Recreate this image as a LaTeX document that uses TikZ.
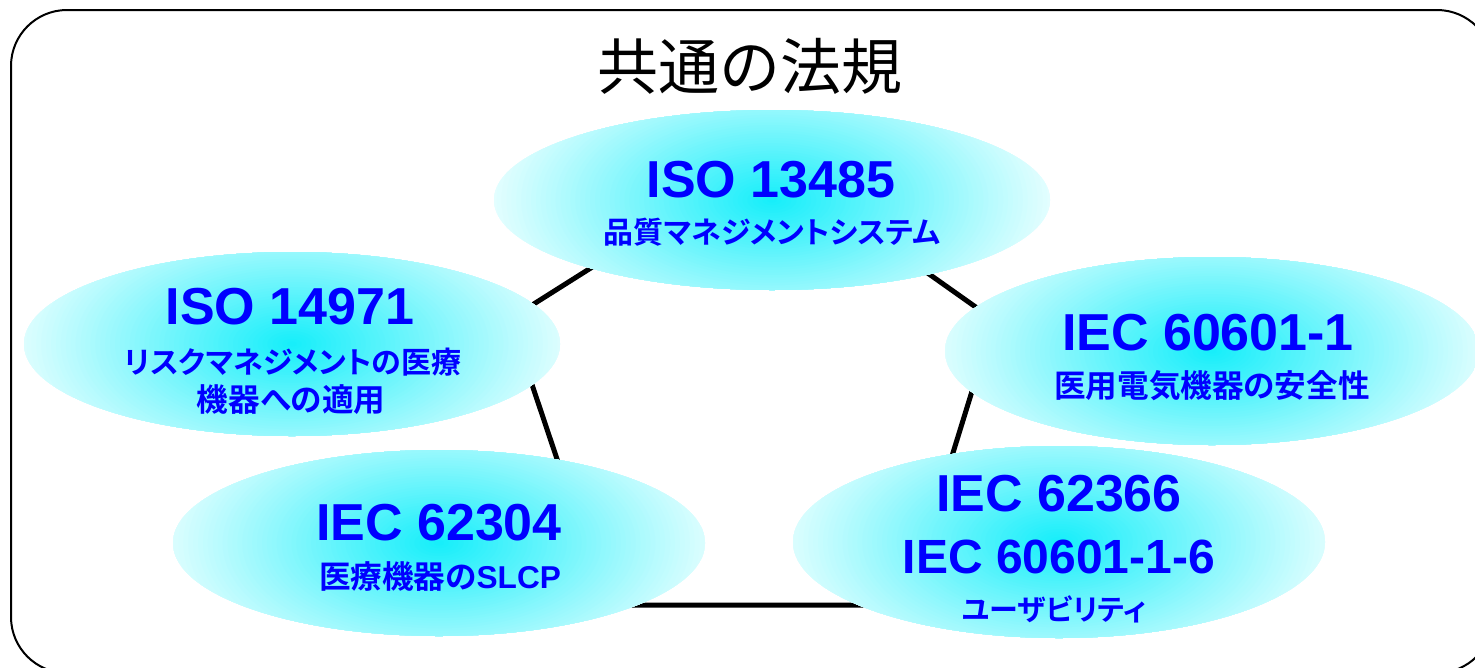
\documentclass[tikz,border=0pt]{standalone}
\usepackage{fontspec}
\usetikzlibrary{shapes.geometric}
\setmainfont{Liberation Sans}
\newfontfamily\jptitle{Noto Sans CJK JP}
\newfontfamily\jpb[RawFeature=+palt]{Noto Sans CJK JP Bold}
\definecolor{txtblue}{RGB}{0,0,255}
\definecolor{cin}{RGB}{20,238,250}
\definecolor{cout}{RGB}{238,255,255}
\tikzset{
  blob/.style={ellipse, draw=none, inner sep=0pt, fill=cout,
    path picture={
      \foreach \i in {60,59,...,1}{
        \pgfmathsetmacro\p{100*(1-\i/60)}
        \fill[cin!\p!cout] (path picture bounding box.center)
          ellipse[x radius={4.9167pt*\i}, y radius={2.5833pt*\i}];
      }}},
  big/.style={text=txtblue, inner sep=0pt, font=\fontsize{52}{60}\selectfont\bfseries},
  mid/.style={text=txtblue, inner sep=0pt, font=\fontsize{48}{56}\selectfont\bfseries},
  jp/.style={text=txtblue, inner sep=0pt, font=\fontsize{30}{36}\selectfont\jpb},
  jpk/.style={text=txtblue, inner sep=0pt, font=\fontsize{31.6}{38}\selectfont\jpb},
  jps/.style={text=txtblue, inner sep=0pt, font=\fontsize{29}{34}\selectfont\jpb},
  edge/.style={line width=5pt, line join=miter, black},
  frame/.style={line width=2pt, black, rounded corners=56pt}
}
\begin{document}
\begin{tikzpicture}[x=1pt, y=-1pt]
\useasboundingbox (0,0) rectangle (1475,667);
\clip (0,0) rectangle (1475,667);
\fill[white] (0,0) rectangle (1475,667);
\draw[frame] (11,10) rectangle (1493,673);
\node[inner sep=0pt, font=\fontsize{61}{70}\selectfont\jptitle] (title) at (750,66) {共通の法規};
% pentagon
\coordinate (pT) at (765,158);
\coordinate (pR) at (994,320);
\coordinate (pBR) at (906,605);
\coordinate (pBL) at (606,605);
\coordinate (pL) at (510,319);
\draw[edge] (pT) -- (pR) -- (pBR) -- (pBL) -- (pL) -- cycle;
% ellipses
\node[blob, minimum width=556pt, minimum height=180pt] (top) at (772,200) {};
\node[blob, minimum width=536pt, minimum height=184pt] (left) at (292,344) {};
\node[blob, minimum width=534pt, minimum height=188pt] (right) at (1212,351) {};
\node[blob, minimum width=532pt, minimum height=186pt] (bl) at (439,543) {};
\node[blob, minimum width=532pt, minimum height=192pt] (br) at (1059,542) {};
% texts
\node[big] (t1) at (771,180) {ISO 13485};
\node[jp] (t1b) at (772,232) {品質マネジメントシステム};
\node[big] (t2) at (290,307) {ISO 14971};
\node[jp] (t2b) at (293,362) {リスクマネジメントの医療};
\node[jpk] (t2c) at (291,400) {機器への適用};
\node[big] (t3) at (1208,333) {IEC 60601-1};
\node[jpk] (t3b) at (1212,386) {医用電気機器の安全性};
\node[big] (t4) at (439,523) {IEC 62304};
\node[jpk] (t4b) at (440,577) {医療機器の{\rmfamily\bfseries SLCP}};
\node[big] (t5) at (1059,494) {IEC 62366};
\node[mid] (t5b) at (1059,557) {IEC 60601-1-6};
\node[jps] (t5c) at (1054,609) {ユーザビリティ};
\end{tikzpicture}
\end{document}
